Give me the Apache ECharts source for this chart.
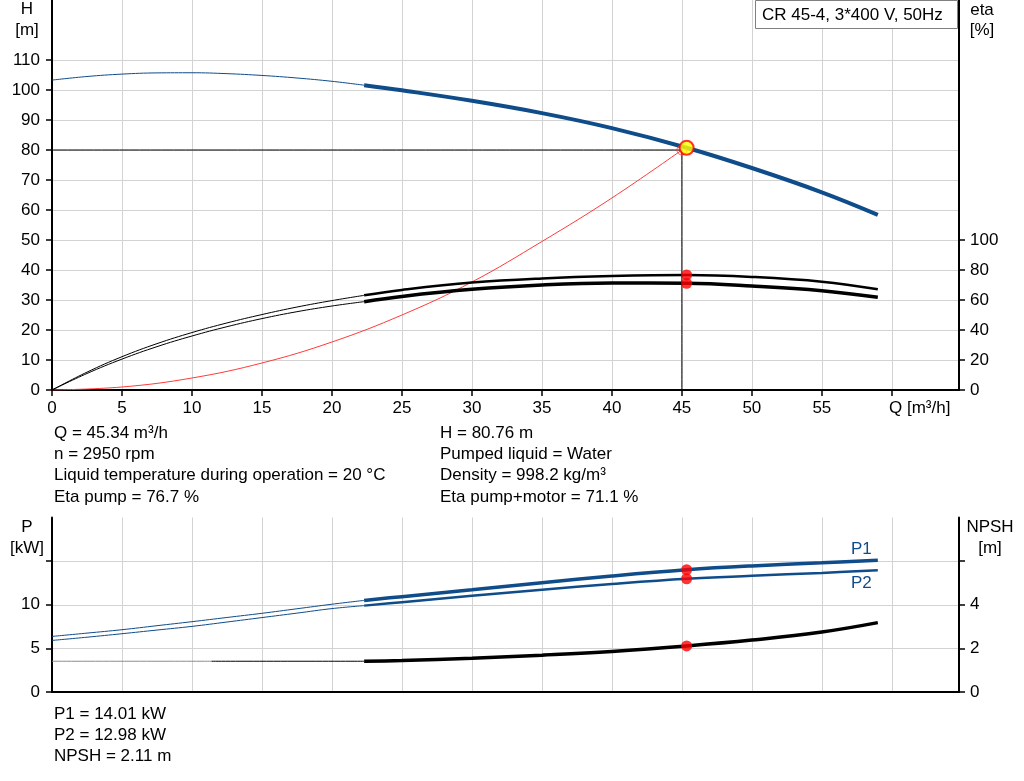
<!DOCTYPE html>
<html>
<head>
<meta charset="utf-8">
<script src="https://cdn.jsdelivr.net/npm/echarts@6/dist/echarts.min.js"></script>
<style>
html,body{margin:0;padding:0;background:#fff;}
#c{width:1024px;height:781px;}
</style>
</head>
<body>
<div id="c"></div>
<script>
// ---- data ----
var qThin = [0, 2.5, 5, 7.5, 10, 12.5, 15, 17.5, 20, 22.3];
var qThick = [22.3, 25, 30, 35, 40, 45.34, 50, 55, 59];

var hThin = [103.3, 104.5, 105.3, 105.7, 105.75, 105.45, 104.85, 104.0, 102.9, 101.6];
var hThick = [101.6, 99.9, 96.4, 92.3, 87.3, 80.76, 74.0, 65.9, 58.4];

var etaPumpThin = [0, 11.9, 22.2, 30.9, 38.3, 44.7, 50.3, 55.3, 59.6, 63.1];
var etaPumpThick = [63.1, 66.7, 71.6, 74.4, 76.0, 76.7, 75.4, 72.2, 67.1];
var etaTotThin = [0, 11.0, 20.6, 28.9, 36.0, 42.2, 47.6, 52.2, 56.0, 58.9];
var etaTotThick = [58.9, 62.4, 67.1, 70.0, 71.3, 71.1, 69.3, 66.2, 61.8];

var qSys = [0, 5, 10, 15, 20, 25, 30, 35, 40, 45];
var hSys = [0, 1.0, 4.0, 9.0, 16, 25, 36, 49.5, 64, 80];

var p1Thin = [6.37, 6.75, 7.14, 7.6, 8.06, 8.54, 9.02, 9.54, 10.06, 10.5];
var p1Thick = [10.5, 10.93, 11.72, 12.52, 13.3, 14.01, 14.45, 14.8, 15.09];
var p2Thin = [5.91, 6.28, 6.68, 7.1, 7.52, 8.02, 8.53, 9.04, 9.56, 9.9];
var p2Thick = [9.9, 10.3, 11.02, 11.72, 12.38, 12.98, 13.32, 13.65, 13.94];

var qNpshGray = [0, 11.4];
var npshGray = [1.41, 1.41];
var qNpshThin = [11.4, 22.3];
var npshThin = [1.41, 1.41];
var npshThick = [1.41, 1.44, 1.55, 1.69, 1.86, 2.11, 2.38, 2.75, 3.18];

var duty = {q: 45, h: 80};
var op = {q: 45.34, h: 80.76, etaPump: 76.7, etaTot: 71.1, p1: 14.01, p2: 12.98, npsh: 2.11};

var xTicks = [0, 5, 10, 15, 20, 25, 30, 35, 40, 45, 50, 55, 60];
var xLabels = [0, 5, 10, 15, 20, 25, 30, 35, 40, 45, 50, 55];
var hLabels = [0, 10, 20, 30, 40, 50, 60, 70, 80, 90, 100, 110];
var etaLabels = [0, 20, 40, 60, 80, 100];
var pLabels = [0, 5, 10];
var pTicks = [0, 5, 10, 15];
var npshLabels = [0, 2, 4];
var npshTicks = [0, 2, 4, 6];

var textLeft = ['Q = 45.34 m³/h', 'n = 2950 rpm', 'Liquid temperature during operation = 20 °C', 'Eta pump = 76.7 %'];
var textRight = ['H = 80.76 m', 'Pumped liquid = Water', 'Density = 998.2 kg/m³', 'Eta pump+motor = 71.1 %'];
var textBottom = ['P1 = 14.01 kW', 'P2 = 12.98 kW', 'NPSH = 2.11 m'];
var legendText = 'CR 45-4, 3*400 V, 50Hz';

// ---- helpers ----
function zip(xs, ys) { return xs.map(function (x, i) { return [x, ys[i]]; }); }
var FONT = "'Liberation Sans', Arial, sans-serif";
var FS = 17;
var BLUE = '#0f4c8a';
var GRID = '#d3d3d3';

function line(name, xi, yi, data, color, width, z) {
  return {
    name: name, type: 'line', xAxisIndex: xi, yAxisIndex: yi, data: data,
    smooth: 0.4, symbol: 'none', silent: true, z: z || 2,
    lineStyle: {color: color, width: width}
  };
}
function dot(name, xi, yi, data, size, style, z) {
  return {
    name: name, type: 'scatter', xAxisIndex: xi, yAxisIndex: yi, data: data,
    symbol: 'circle', symbolSize: size, itemStyle: style, silent: true, z: z || 5
  };
}

var axisLineStyle = {show: true, lineStyle: {color: '#000', width: 2}};
var labelStyle = {color: '#000', fontSize: FS, fontFamily: FONT};

var graphics = [];
function txt(x, y, s, opts) {
  opts = opts || {};
  graphics.push({
    type: 'text', x: x, y: y, silent: true,
    style: {text: s, fill: opts.fill || '#000', font: FS + 'px ' + FONT,
      textAlign: opts.align || 'left', textVerticalAlign: 'middle'}
  });
}
textLeft.forEach(function (s, i) { txt(54, 433 + i * 21.3, s); });
textRight.forEach(function (s, i) { txt(440, 433 + i * 21.3, s); });
textBottom.forEach(function (s, i) { txt(54, 714 + i * 21, s); });
txt(27, 9, 'H', {align: 'center'});
txt(27, 30, '[m]', {align: 'center'});
txt(982, 10, 'eta', {align: 'center'});
txt(982, 30, '[%]', {align: 'center'});
txt(27, 527, 'P', {align: 'center'});
txt(27, 548, '[kW]', {align: 'center'});
txt(990, 527, 'NPSH', {align: 'center'});
txt(990, 548, '[m]', {align: 'center'});
txt(889, 408, 'Q [m³/h]');
txt(851, 549, 'P1', {fill: BLUE});
txt(851, 583, 'P2', {fill: BLUE});
graphics.push({
  type: 'rect', x: 755.5, y: 0.5, silent: true, z: 10,
  shape: {width: 202, height: 28},
  style: {fill: '#fff', stroke: '#808080', lineWidth: 1}
});
graphics.push({
  type: 'text', x: 762, y: 15, silent: true, z: 11,
  style: {text: legendText, fill: '#000', font: FS + 'px ' + FONT, textAlign: 'left', textVerticalAlign: 'middle'}
});

var option = {
  animation: false,
  backgroundColor: '#fff',
  grid: [
    {left: 52, top: 0, width: 907, height: 390},
    {left: 52, top: 517.5, width: 907, height: 174.5}
  ],
  xAxis: [
    {type: 'value', gridIndex: 0, min: 0, max: 64.8, interval: 5,
      axisLine: axisLineStyle,
      axisTick: {show: true, customValues: xTicks, length: 6, lineStyle: {color: '#000', width: 1.5}},
      axisLabel: Object.assign({customValues: xLabels, margin: 10}, labelStyle),
      splitLine: {show: true, lineStyle: {color: GRID, width: 1}}},
    {type: 'value', gridIndex: 1, min: 0, max: 64.8, interval: 5,
      axisLine: axisLineStyle,
      axisTick: {show: false},
      axisLabel: {show: false},
      splitLine: {show: true, lineStyle: {color: GRID, width: 1}}}
  ],
  yAxis: [
    {type: 'value', gridIndex: 0, min: 0, max: 130, interval: 10, position: 'left',
      axisLine: axisLineStyle,
      axisTick: {show: true, customValues: hLabels, length: 6, lineStyle: {color: '#000', width: 1.5}},
      axisLabel: Object.assign({customValues: hLabels, margin: 12}, labelStyle),
      splitLine: {show: true, lineStyle: {color: GRID, width: 1}}},
    {type: 'value', gridIndex: 0, min: 0, max: 260, interval: 20, position: 'right',
      axisLine: axisLineStyle,
      axisTick: {show: true, customValues: etaLabels, length: 6, lineStyle: {color: '#000', width: 1.5}},
      axisLabel: Object.assign({customValues: etaLabels, margin: 11}, labelStyle),
      splitLine: {show: false}},
    {type: 'value', gridIndex: 1, min: 0, max: 20, interval: 5, position: 'left',
      axisLine: axisLineStyle,
      axisTick: {show: true, customValues: pTicks, length: 6, lineStyle: {color: '#000', width: 1.5}},
      axisLabel: Object.assign({customValues: pLabels, margin: 12}, labelStyle),
      splitLine: {show: true, lineStyle: {color: GRID, width: 1}}},
    {type: 'value', gridIndex: 1, min: 0, max: 8, interval: 2, position: 'right',
      axisLine: axisLineStyle,
      axisTick: {show: true, customValues: npshTicks, length: 6, lineStyle: {color: '#000', width: 1.5}},
      axisLabel: Object.assign({customValues: npshLabels, margin: 11}, labelStyle),
      splitLine: {show: false}}
  ],
  graphic: graphics,
  series: [
    line('dutyLines', 0, 0, [[0, duty.h], [duty.q, duty.h], [duty.q, 0]], '#000', 1, 1),
    line('system', 0, 0, zip(qSys, hSys), '#ff3b3b', 1, 3),
    line('H thin', 0, 0, zip(qThin, hThin), BLUE, 1, 3),
    line('H', 0, 0, zip(qThick, hThick), BLUE, 4, 3),
    line('eta pump thin', 0, 1, zip(qThin, etaPumpThin), '#000', 1, 3),
    line('eta pump', 0, 1, zip(qThick, etaPumpThick), '#000', 2.5, 3),
    line('eta tot thin', 0, 1, zip(qThin, etaTotThin), '#000', 1, 3),
    line('eta tot', 0, 1, zip(qThick, etaTotThick), '#000', 3.5, 3),
    line('P1 thin', 1, 2, zip(qThin, p1Thin), BLUE, 1, 3),
    line('P1', 1, 2, zip(qThick, p1Thick), BLUE, 3.5, 3),
    line('P2 thin', 1, 2, zip(qThin, p2Thin), BLUE, 1, 3),
    line('P2', 1, 2, zip(qThick, p2Thick), BLUE, 2.5, 3),
    line('NPSH gray', 1, 3, zip(qNpshGray, npshGray), '#8c8c8c', 1, 3),
    line('NPSH thin', 1, 3, zip(qNpshThin, npshThin), '#000', 1, 3),
    line('NPSH', 1, 3, zip(qThick, npshThick), '#000', 3.5, 3),
    dot('duty', 0, 0, [[duty.q, duty.h]], 10, {color: 'rgba(0,0,0,0)', borderColor: '#ff3b3b', borderWidth: 1}, 5),
    dot('op H', 0, 0, [[op.q, op.h]], 14, {color: '#ffff00', borderColor: '#ff0000', borderWidth: 2}, 6),
    dot('op eta', 0, 1, [[op.q, op.etaPump], [op.q, op.etaTot]], 11, {color: '#ff0000'}, 6),
    dot('op P', 1, 2, [[op.q, op.p1], [op.q, op.p2]], 11, {color: '#ff0000'}, 6),
    dot('op NPSH', 1, 3, [[op.q, op.npsh]], 11, {color: '#ff0000'}, 6)
  ]
};

var chart = echarts.init(document.getElementById('c'), null, {renderer: 'canvas'});
chart.setOption(option);
</script>
</body>
</html>
